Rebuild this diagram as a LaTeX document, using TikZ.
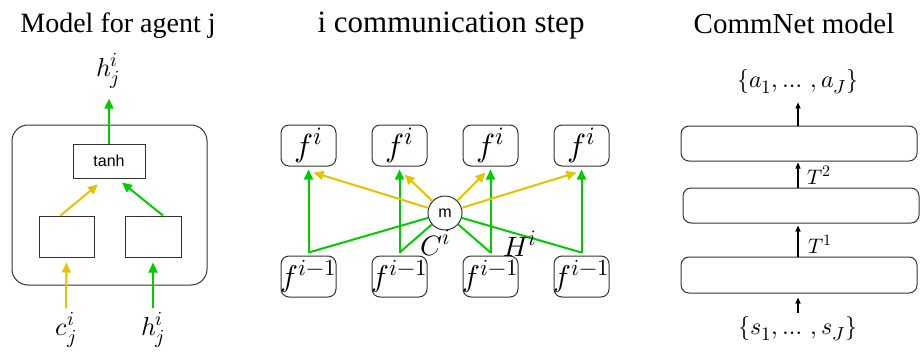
\documentclass[tikz,border=0pt]{standalone}
\usepackage{fontspec}
\usepackage{unicode-math}
\setmainfont{Liberation Serif}
\setmathfont{Latin Modern Math}
\newfontfamily\arialfont{Liberation Sans}
% larger scripts than the defaults, for the big math labels
\DeclareMathSizes{26}{26}{20}{16}
\DeclareMathSizes{32}{32}{25}{20}
\DeclareMathSizes{30}{30}{23}{18}
\DeclareMathSizes{28}{28}{22}{17}
\DeclareMathSizes{24}{24}{19}{15}
\DeclareMathSizes{21}{21}{16}{12}
\usetikzlibrary{arrows.meta}
\definecolor{ygold}{HTML}{E6C300}
\definecolor{lgreen}{HTML}{00CC00}
\definecolor{edgegray}{HTML}{333333}
\tikzset{
  title/.style={anchor=base, inner sep=0pt},
  plainbox/.style={draw=edgegray, line width=1pt, rectangle, inner sep=0pt},
  roundbox/.style={plainbox, rounded corners=8pt},
  fbox/.style={roundbox, minimum width=55pt, minimum height=41pt},
  layerbox/.style={roundbox, minimum width=236pt, minimum height=35pt},
  mathlabel/.style={inner sep=0pt, font=\fontsize{26}{28}\selectfont},
  garrow/.style={draw=lgreen, line width=2pt, -{Triangle[length=10pt,width=9pt]}},
  yarrow/.style={draw=ygold, line width=2pt, -{Triangle[length=10pt,width=9pt]}},
  gline/.style={draw=lgreen, line width=2pt},
  karrow/.style={draw=black, line width=1.1pt, -{Triangle[length=6pt,width=5pt]}},
}
\begin{document}
\begin{tikzpicture}[x=1pt, y=-1pt]
\useasboundingbox (0,0) rectangle (920,359);

% ---------- Model for agent j ----------
\node[title, font=\fontsize{28}{30}\selectfont] (ttl1) at (118,32) {Model for agent j};
\node[plainbox, rounded corners=16pt, minimum width=195pt, minimum height=160pt] (agent) at (109.5,205) {};
\node[plainbox, minimum width=72pt, minimum height=34pt, font=\arialfont\fontsize{16}{18}\selectfont] (tanh) at (109,161) {tanh};
\node[plainbox, minimum width=55pt, minimum height=41pt] (cbox) at (66.5,236.5) {};
\node[plainbox, minimum width=56pt, minimum height=41pt] (hbox) at (153,236.5) {};
\node[mathlabel] (hout) at (108,71) {$h_j^i$};
\node[mathlabel] (cin) at (66,330) {$c_j^i$};
\node[mathlabel] (hin) at (153,330) {$h_j^i$};

\draw[garrow] (tanh.north) -- ([yshift=-10pt]tanh.north |- hout.south);
\draw[yarrow] ([xshift=-6pt]cbox.north) -- ([xshift=-11pt,yshift=-6pt]tanh.south);
\draw[garrow] ([xshift=10pt]hbox.north) -- ([xshift=13pt,yshift=-4pt]tanh.south);
\draw[yarrow] ([yshift=4pt]cin.north) -- ([yshift=-5pt]cbox.south);
\draw[garrow] ([yshift=4pt]hin.north) -- ([yshift=-5pt]hbox.south);

% ---------- i communication step ----------
\node[title, font=\fontsize{31}{33}\selectfont] (ttl2) at (451,32) {i communication step};
\foreach \n/\x in {1/308.5, 2/399.5, 3/490.5, 4/581.5} {
  \node[fbox, font=\fontsize{32}{34}\selectfont] (top\n) at (\x,145.5) {$f^{i}$};
  \node[fbox, font=\fontsize{30}{32}\selectfont] (bot\n) at (\x,276.5) {\makebox[53pt]{$f^{i-1}$}};
  \coordinate (jn\n) at ([yshift=3pt]bot\n.north);
}
\node[draw=edgegray, line width=1pt, circle, minimum size=34pt, inner sep=0pt,
      fill=white, font=\arialfont\fontsize{16}{18}\selectfont] (m) at (445,213) {m};

\foreach \n in {1,2,3,4} {
  \draw[garrow] (jn\n) -- ([yshift=-3pt]top\n.south);
  \draw[gline] (m) -- (jn\n);
}
\draw[yarrow] (m) -- ([xshift=5pt,yshift=-6pt]top1.south);
\draw[yarrow] (m) -- ([xshift=5pt,yshift=-8pt]top2.south);
\draw[yarrow] (m) -- ([xshift=-5pt,yshift=-6pt]top3.south);
\draw[yarrow] (m) -- ([xshift=-5pt,yshift=-6pt]top4.south);

\node[inner sep=0pt, anchor=base west, font=\fontsize{28}{30}\selectfont] (Clab) at (420,255) {$C^{i}$};
\node[inner sep=0pt, anchor=base west, font=\fontsize{28}{30}\selectfont] (Hlab) at (503,256) {$H^{i}$};

% ---------- CommNet model ----------
\node[title, font=\fontsize{29}{31}\selectfont] (ttl3) at (794,33) {CommNet model};
\node[layerbox] (layA) at (799,143.5) {};
\node[layerbox] (layB) at (801,205.5) {};
\node[layerbox, minimum height=36pt] (layC) at (799,275) {};
\node[inner sep=0pt, font=\fontsize{24}{26}\selectfont] (aout) at (798,82) {$\{a_1, \dots\,, a_J\}$};
\node[inner sep=0pt, font=\fontsize{24}{26}\selectfont] (sin) at (798,329) {$\{s_1, \dots\,, s_J\}$};
\coordinate (colx) at (798,0);

\draw[karrow] (colx |- layA.north) -- ([yshift=-8pt]colx |- aout.south);
\draw[karrow] (colx |- layB.north) -- ([yshift=-1pt]colx |- layA.south);
\draw[karrow] (colx |- layC.north) -- ([yshift=-2pt]colx |- layB.south);
\draw[karrow] ([yshift=4pt]colx |- sin.north) -- ([yshift=-4pt]colx |- layC.south);

\node[inner sep=0pt, anchor=base west, font=\fontsize{21}{23}\selectfont] (T2) at (807,184) {$T^2$};
\node[inner sep=0pt, anchor=base west, font=\fontsize{21}{23}\selectfont] (T1) at (808,253) {$T^1$};
\end{tikzpicture}
\end{document}
